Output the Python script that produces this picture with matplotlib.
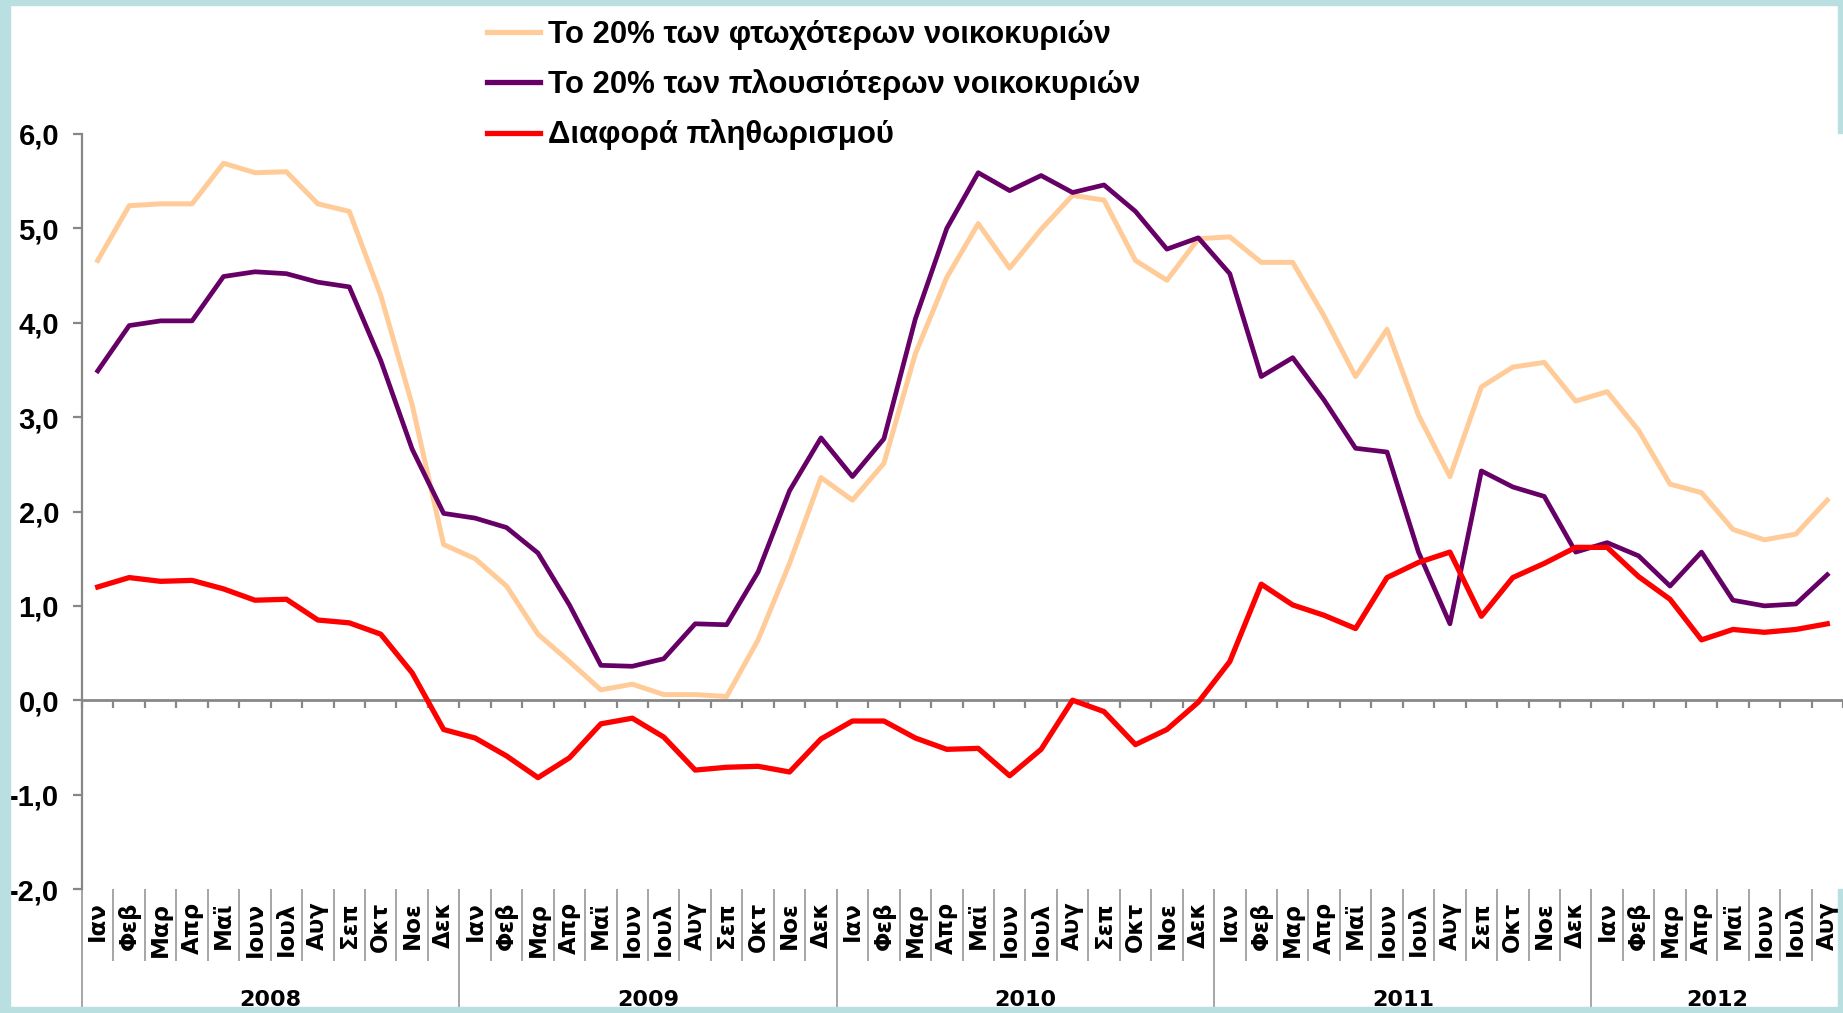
import numpy as np
import matplotlib.pyplot as plt
from matplotlib.patches import Rectangle
from matplotlib.ticker import FuncFormatter

# Μήνες / έτη
months = ["Ιαν", "Φεβ", "Μαρ", "Απρ", "Μαϊ", "Ιουν", "Ιουλ", "Αυγ", "Σεπ", "Οκτ", "Νοε", "Δεκ"]
years = ["2008", "2009", "2010", "2011", "2012"]
months_per_year = [12, 12, 12, 12, 8]
month_labels = [months[i] for n in months_per_year for i in range(n)]

labels = ["Το 20% των φτωχότερων νοικοκυριών",
          "Το 20% των πλουσιότερων νοικοκυριών",
          "Διαφορά πληθωρισμού"]

# Το 20% των φτωχότερων νοικοκυριών
poor = [4.66, 5.24, 5.26, 5.26, 5.69, 5.59, 5.60, 5.26, 5.18, 4.29, 3.13, 1.65,
        1.50, 1.21, 0.70, 0.41, 0.11, 0.17, 0.06, 0.06, 0.04, 0.64, 1.45, 2.36,
        2.12, 2.51, 3.67, 4.48, 5.05, 4.58, 4.99, 5.35, 5.30, 4.66, 4.45, 4.89,
        4.91, 4.64, 4.64, 4.07, 3.43, 3.93, 3.02, 2.37, 3.32, 3.53, 3.58, 3.17,
        3.27, 2.86, 2.29, 2.20, 1.81, 1.70, 1.76, 2.12]

# Το 20% των πλουσιότερων νοικοκυριών
rich = [3.49, 3.97, 4.02, 4.02, 4.49, 4.54, 4.52, 4.43, 4.38, 3.60, 2.66, 1.98,
        1.93, 1.83, 1.56, 1.01, 0.37, 0.36, 0.44, 0.81, 0.80, 1.36, 2.22, 2.78,
        2.37, 2.77, 4.04, 5.00, 5.59, 5.40, 5.56, 5.38, 5.46, 5.18, 4.78, 4.90,
        4.52, 3.43, 3.63, 3.18, 2.67, 2.63, 1.57, 0.81, 2.43, 2.26, 2.16, 1.57,
        1.67, 1.53, 1.21, 1.57, 1.06, 1.00, 1.02, 1.33]

# Διαφορά πληθωρισμού
diff = [1.20, 1.30, 1.26, 1.27, 1.18, 1.06, 1.07, 0.85, 0.82, 0.70, 0.29, -0.31,
        -0.40, -0.59, -0.82, -0.61, -0.25, -0.19, -0.39, -0.74, -0.71, -0.70, -0.76, -0.41,
        -0.22, -0.22, -0.40, -0.52, -0.51, -0.80, -0.52, 0.00, -0.12, -0.47, -0.31, -0.02,
        0.41, 1.23, 1.01, 0.90, 0.76, 1.30, 1.46, 1.57, 0.89, 1.30, 1.45, 1.62,
        1.62, 1.31, 1.07, 0.64, 0.75, 0.72, 0.75, 0.81]

plt.rcParams['font.family'] = ['DejaVu Sans']
plt.rcParams['font.weight'] = 'bold'

W, H = 1843, 1013
fig = plt.figure(figsize=(W / 100, H / 100), dpi=100)
fig.patch.set_facecolor('white')

ax = fig.add_axes([82 / W, (H - 889) / H, 1 - 82 / W, (889 - 134) / H])
n = len(poor)
x = np.arange(n) + 0.5

ax.plot(x, poor, color='#FFCC99', lw=3.6, label=labels[0])
ax.plot(x, rich, color='#660066', lw=3.4, label=labels[1])
ax.plot(x, diff, color='#FF0000', lw=3.8, label=labels[2])

ax.set_xlim(0, n)
ax.set_ylim(-2, 6)
ax.set_yticks(np.arange(-2, 7, 1))
ax.yaxis.set_major_formatter(FuncFormatter(lambda v, p: f"{v:.1f}".replace('.', ',')))

grey = '#878787'
for s in ['top', 'right', 'bottom']:
    ax.spines[s].set_visible(False)
ax.spines['left'].set_color(grey)
ax.spines['left'].set_linewidth(1.6)
ax.tick_params(axis='y', direction='out', length=6.5, width=1.6, color=grey, pad=10)
for t in ax.get_yticklabels():
    t.set_fontfamily('Liberation Sans')
    t.set_fontsize(21)

# ετικέτες μηνών
ax.set_xticks(x, month_labels, rotation=90)
ax.set_xticks(np.arange(n + 1), minor=True)
ax.tick_params(axis='x', which='major', length=0, labelsize=16.5, pad=9)
ax.tick_params(axis='x', which='minor', direction='out', length=52, width=1.4,
               color='#A6A6A6')

# έτη
bounds = np.concatenate([[0], np.cumsum(months_per_year)])
centers = (bounds[:-1] + bounds[1:]) / 2
sec = ax.secondary_xaxis('bottom')
sec.spines['bottom'].set_visible(False)
sec.set_xticks(bounds, [''] * len(bounds))
sec.set_xticks(centers, years, minor=True)
sec.tick_params(axis='x', which='major', direction='out', length=90, width=1.4,
                color='#A6A6A6')
sec.tick_params(axis='x', which='minor', length=0, labelsize=16, pad=73)

# άξονας στο μηδέν
zero = ax.secondary_xaxis(0.25)
zero.spines['bottom'].set_color(grey)
zero.spines['bottom'].set_linewidth(2)
zero.set_xticks(np.arange(n + 1), [''] * (n + 1))
zero.tick_params(axis='x', direction='out', length=6, width=1.6, color=grey)

leg = fig.legend(loc='upper left', bbox_to_anchor=(487 / W, 1 - 20 / H),
                 frameon=False, handlelength=1.7, handletextpad=0.27,
                 labelspacing=0.62, borderpad=0, borderaxespad=0,
                 prop={'family': 'Liberation Sans', 'weight': 'bold', 'size': 22.4})
for line in leg.get_lines():
    line.set_linewidth(3.8)

# γαλάζιο πλαίσιο
border = '#BADFE1'
fig.patches.append(Rectangle((0, 0), 10 / W, 1, transform=fig.transFigure,
                             color=border, zorder=10))
fig.patches.append(Rectangle((0, 1 - 5 / H), 1, 5 / H, transform=fig.transFigure,
                             color=border, zorder=10))
fig.patches.append(Rectangle((0, 0), 1, 6 / H, transform=fig.transFigure,
                             color=border, zorder=10))
fig.patches.append(Rectangle((1 - 5 / W, 1 - 133 / H), 5 / W, 133 / H,
                             transform=fig.transFigure, color=border, zorder=10))
fig.patches.append(Rectangle((1 - 5 / W, 0), 5 / W, (H - 889) / H,
                             transform=fig.transFigure, color=border, zorder=10))

fig.savefig('out.png', dpi=100)
